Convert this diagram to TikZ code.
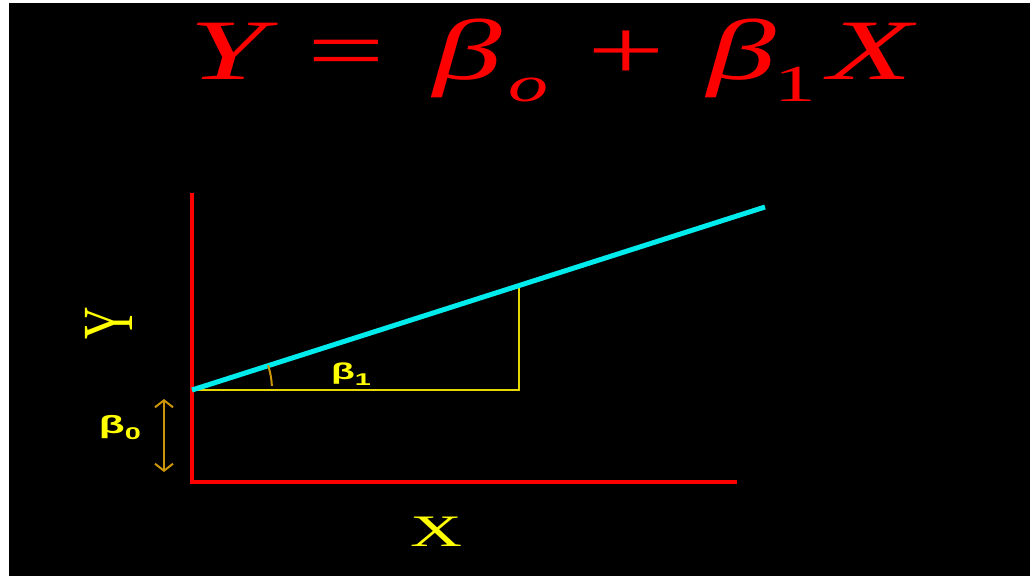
\documentclass[tikz,border=0pt]{standalone}
\usepackage{fontspec}
\setmainfont{Liberation Serif}
\newfontfamily\lsans{Liberation Sans}
\usetikzlibrary{arrows.meta}
\definecolor{eqred}{RGB}{255,0,0}
\definecolor{lncyan}{RGB}{0,235,235}
\definecolor{lblyel}{RGB}{255,255,0}
\definecolor{thinyel}{RGB}{230,215,0}
\definecolor{gold}{RGB}{205,150,10}
\tikzset{
  eq/.style={inner sep=0pt, anchor=base, text=eqred},
  lbl/.style={inner sep=0pt, text=lblyel},
  axis/.style={draw=eqred, line width=4pt},
}
\newcommand{\bigf}{\fontsize{86}{86}\selectfont}
\newcommand{\subf}{\fontsize{50}{50}\selectfont}
\newcommand{\wide}[1]{\scalebox{1.6}[1]{#1}}
\begin{document}
\begin{tikzpicture}[x=1pt,y=-1pt]
\useasboundingbox (0,0) rectangle (1030,576);
\fill[white] (0,0) rectangle (1030,576);
\fill[black] (9,3) rectangle (1030,576);
% equation
\node[eq] (eY) at (228,79) {\wide{\bigf\itshape Y}};
\node[eq] (eEq) at (346,79) {\wide{\bigf =}};
\node[eq] (eB0) at (468,79) {\wide{\bigf\itshape β}};
\node[eq] (eS0) at (528,101) {\wide{\subf\itshape o}};
\node[eq] (ePl) at (626,79) {\wide{\bigf +}};
\node[eq] (eB1) at (742,79) {\wide{\bigf\itshape β}};
\node[eq] (eS1) at (795,101) {\wide{\fontsize{52}{52}\selectfont 1}};
\node[eq] (eX) at (871,79) {\wide{\bigf\itshape X}};
% geometry
\coordinate (O) at (192,482);
\coordinate (ytop) at (192,195);
\coordinate (xend) at (735,482);
\coordinate (icpt) at (192,390);
\coordinate (cend) at (765,207);
\coordinate (foot) at (519,390);
\coordinate (rise) at (519,285.6);
\draw[axis, line cap=rect] (ytop) -- (O) -- (xend);
\draw[thinyel, line width=1.6pt] (icpt) -- (foot) -- (rise);
\draw[lncyan, line width=5pt] (icpt) -- (cend);
\draw[gold, line width=2pt] ([shift={(-3:80)}]icpt) arc[start angle=-3, end angle=-18, radius=80];
\coordinate (atop) at (164,399);
\coordinate (abot) at (164,472);
\draw[gold, line width=2pt, {Straight Barb[length=7pt,width=18pt]}-{Straight Barb[length=7pt,width=18pt]}] (atop) -- (abot);
% labels
\node[lbl, rotate=90] (ylab) at (109,323) {\scalebox{1}[1.6]{\fontsize{45}{45}\selectfont Y}};
\node[lbl] (xlab) at (436,532) {\wide{\fontsize{45}{45}\selectfont X}};
\node[lbl, anchor=base] (b0) at (120,433) {\scalebox{1.7}[1]{\lsans\bfseries\fontsize{25}{25}\selectfont β\raisebox{-6pt}{\fontsize{17}{17}\selectfont 0}}};
\node[lbl, anchor=base] (b1) at (351,379) {\scalebox{1.7}[1]{\lsans\bfseries\fontsize{23}{23}\selectfont β\raisebox{-6pt}{\fontsize{17}{17}\selectfont 1}}};
\end{tikzpicture}
\end{document}
